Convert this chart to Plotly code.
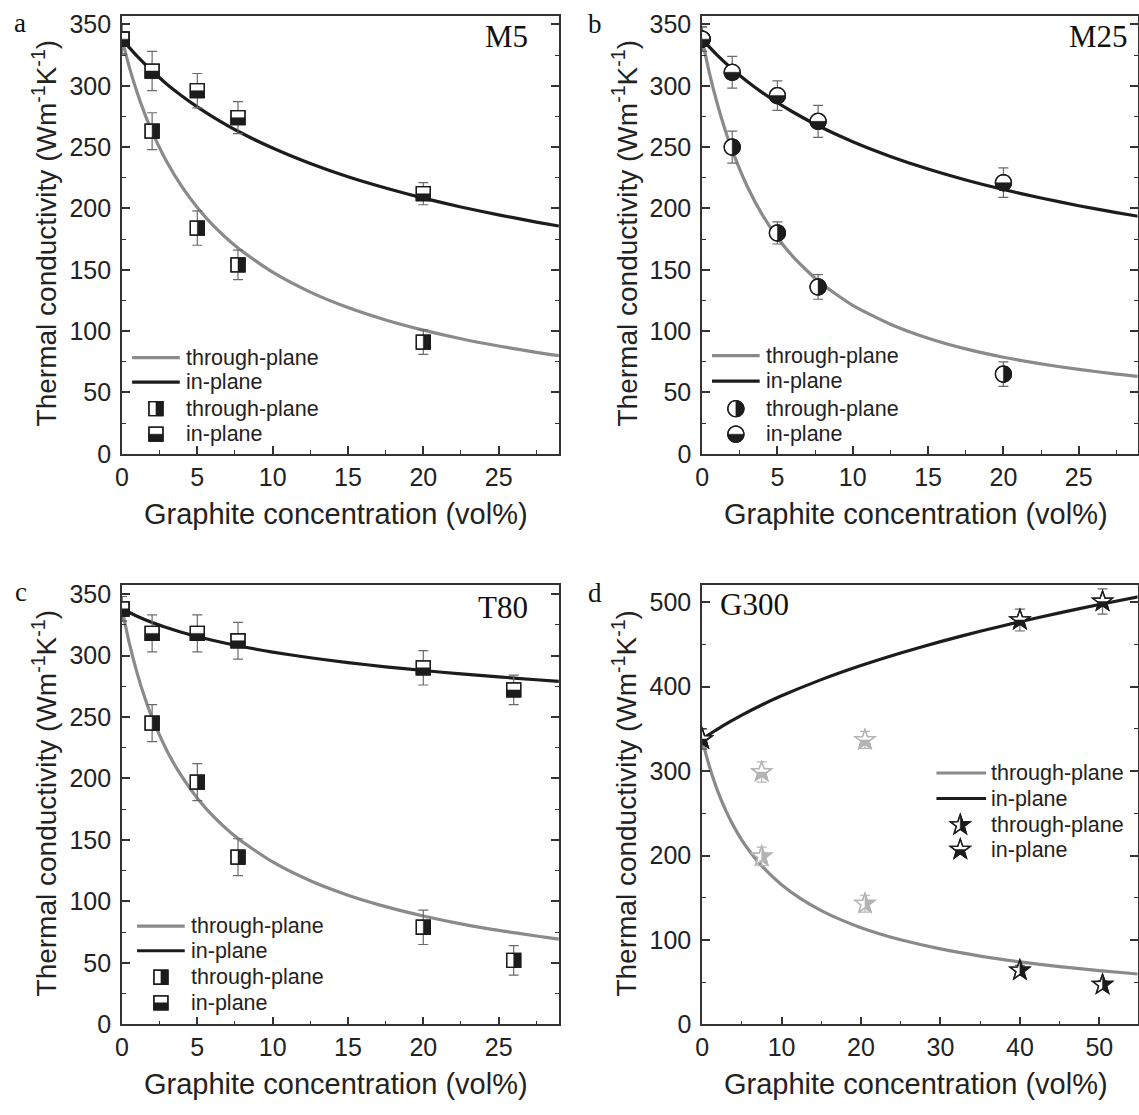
import math
import plotly.graph_objects as go

# ---------------- data ----------------
# Panel a: M5 graphite
m5_x = [0, 2, 5, 7.7, 20]
m5_through = [338, 263, 184, 154, 91]
m5_through_err = [12, 15, 14, 12, 10]
m5_in = [338, 312, 296, 274, 212]
m5_in_err = [12, 16, 14, 13, 9]
m5_fit_through_x = [0, 0.5, 1, 1.5, 2, 3, 4, 5, 6, 7.7, 10, 12.5, 15, 17.5, 20, 22.5, 25, 27.5, 29]
m5_fit_through = [338, 314.6, 294.7, 277.5, 262.4, 237.4, 217.3, 200.7, 186.8, 167.7, 148.0,
                  131.8, 119.2, 109.1, 100.8, 93.8, 87.9, 82.7, 80.0]
m5_fit_in_x = [0, 1, 2, 3, 4, 5, 6, 7.7, 10, 12.5, 15, 17.5, 20, 22.5, 25, 27.5, 29]
m5_fit_in = [338, 324.1, 312.0, 301.1, 291.5, 282.8, 274.9, 262.9, 249.2, 236.6, 225.8,
             216.6, 208.4, 201.2, 194.8, 188.9, 185.7]

# Panel b: M25 graphite
m25_x = [0, 2, 5, 7.7, 20]
m25_through = [338, 250, 180, 136, 65]
m25_through_err = [10, 13, 9, 10, 10]
m25_in = [338, 311, 292, 271, 221]
m25_in_err = [10, 13, 12, 13, 12]
m25_fit_through_x = [0, 0.5, 1, 1.5, 2, 3, 4, 5, 6, 7.7, 10, 12.5, 15, 17.5, 20, 22.5, 25, 27.5, 29]
m25_fit_through = [338, 309.7, 285.7, 265.2, 247.3, 217.9, 194.8, 176.3, 161.2, 140.9, 121.0,
                   105.6, 94.2, 85.5, 78.7, 73.3, 68.8, 65.0, 63.1]
m25_fit_in_x = [0, 1, 2, 3, 4, 5, 6, 7.7, 10, 12.5, 15, 17.5, 20, 22.5, 25, 27.5, 29]
m25_fit_in = [338, 325.0, 313.7, 303.5, 294.4, 286.2, 278.8, 267.4, 254.4, 242.4, 232.1,
              223.2, 215.4, 208.5, 202.2, 196.6, 193.5]

# Panel c: T80 graphite
t80_x = [0, 2, 5, 7.7, 20, 26]
t80_through = [338, 245, 197, 136, 79, 52]
t80_through_err = [10, 15, 15, 15, 14, 12]
t80_in = [338, 318, 318, 312, 290, 272]
t80_in_err = [10, 15, 15, 15, 14, 12]
t80_fit_through_x = [0, 0.5, 1, 1.5, 2, 3, 4, 5, 6, 7.7, 10, 12.5, 15, 17.5, 20, 22.5, 25, 27.5, 29]
t80_fit_through = [338, 309.4, 285.9, 266.2, 249.4, 222.1, 201.0, 184.0, 170.0, 151.1, 132.1,
                   116.8, 105.1, 95.8, 88.2, 81.8, 76.5, 71.9, 69.4]
t80_fit_in_x = [0, 1, 2, 3, 4, 5, 6, 7.7, 10, 12.5, 15, 17.5, 20, 22.5, 25, 27.5, 29]
t80_fit_in = [338, 331.9, 326.8, 322.5, 318.7, 315.4, 312.4, 307.9, 302.8, 298.2, 294.2,
              290.8, 287.8, 285.0, 282.6, 280.3, 279.0]

# Panel d: G300 graphite
g300_x = [0, 7.5, 20.5, 40, 50.4]
g300_through = [338, 199, 143, 64, 47]
g300_through_err = [12, 11, 10, 6, 5]
g300_in = [338, 299, 337, 479, 501]
g300_in_err = [12, 12, 10, 13, 15]
g300_faded = [False, True, True, False, False]
g300_fit_through_x = [0, 0.5, 1, 1.5, 2, 3, 4, 5, 6.25, 7.5, 10, 12.5, 15, 17.5, 20, 22.5,
                      25, 30, 35, 40, 45, 50, 55]
g300_fit_through = [338, 319.5, 303.1, 288.5, 275.4, 252.9, 234.3, 218.4, 201.8, 187.7, 165.4,
                    148.3, 134.8, 123.8, 114.6, 106.9, 100.3, 89.4, 80.9, 74.1, 68.4, 63.7, 59.6]
g300_fit_in_x = [0, 2.5, 5, 7.5, 10, 15, 20, 25, 30, 35, 40, 45, 50, 55]
g300_fit_in = [338, 353.1, 366.4, 378.4, 389.2, 408.4, 425.1, 440.0, 453.4, 465.7, 477.0,
               487.5, 497.4, 506.6]

series_labels = ["through-plane", "in-plane"]
x_title = "Graphite concentration (vol%)"
y_title = "Thermal conductivity (Wm<sup>-1</sup>K<sup>-1</sup>)"

# ---------------- style ----------------
W, H = 1139, 1115
GRAY = "#8a8a8a"
BLACK = "#1c1c1c"
ERR = "#6a6a6a"
FADED = "#b4b4b4"
AXIS = "#333333"
TXT = "#222222"
SANS = "Liberation Sans, Arial, sans-serif"
SERIF = "Liberation Serif, Times New Roman, serif"


def px_x(p):
    return p / W


def px_y(p):
    return 1 - p / H


# ---------------- marker geometry (pixel units, y up) ----------------
def square(s=7):
    return [(-s, -s), (s, -s), (s, s), (-s, s)]


def circle(r=8, n=48):
    return [(r * math.cos(2 * math.pi * k / n), r * math.sin(2 * math.pi * k / n)) for k in range(n)]


def star(R=10.5, ratio=0.40):
    pts = []
    for k in range(10):
        a = math.pi / 2 + k * math.pi / 5
        rr = R if k % 2 == 0 else R * ratio
        pts.append((rr * math.cos(a), rr * math.sin(a)))
    return pts


def clip_half(poly, f):
    out = []
    n = len(poly)
    for i in range(n):
        p, q = poly[i], poly[(i + 1) % n]
        fp, fq = f(p), f(q)
        if fp >= 0:
            out.append(p)
        if (fp >= 0) != (fq >= 0):
            t = fp / (fp - fq)
            out.append((p[0] + t * (q[0] - p[0]), p[1] + t * (q[1] - p[1])))
    return out


def to_path(poly):
    return "M " + " L ".join(f"{x:.2f},{y:.2f}" for x, y in poly) + " Z"


SPLIT = {
    "through": lambda p: p[0],   # right half filled
    "in": lambda p: -p[1],       # lower half filled
}


def half_marker(xref, yref, x, y, geom, split, edge=BLACK, fill=BLACK, lw=1.3):
    outline = geom
    half = clip_half(outline, SPLIT[split])
    base = dict(type="path", xref=xref, yref=yref, xsizemode="pixel", ysizemode="pixel",
                xanchor=x, yanchor=y, layer="above")
    return [
        dict(path=to_path(outline), fillcolor="white", line=dict(color=edge, width=lw), **base),
        dict(path=to_path(half), fillcolor=fill, line=dict(color=fill, width=0.5), **base),
        dict(path=to_path(outline), fillcolor="rgba(0,0,0,0)", line=dict(color=edge, width=lw), **base),
    ]


# ---------------- panels ----------------
panels = [
    dict(key="", letter="a", tag="M5", geom=square(),
         x=m5_x, thr=m5_through, thr_err=m5_through_err, inp=m5_in, inp_err=m5_in_err,
         fx_t=m5_fit_through_x, ft=m5_fit_through, fx_i=m5_fit_in_x, fi=m5_fit_in,
         faded=None, xdom=(115.8, 555.8), ydom=(10, 456), xr=[0, 29], yr=[0, 357],
         xd=5, xm=2.5, yd=50, ym=25),
    dict(key="2", letter="b", tag="M25", geom=circle(),
         x=m25_x, thr=m25_through, thr_err=m25_through_err, inp=m25_in, inp_err=m25_in_err,
         fx_t=m25_fit_through_x, ft=m25_fit_through, fx_i=m25_fit_in_x, fi=m25_fit_in,
         faded=None, xdom=(700, 1138.5), ydom=(10, 456), xr=[0, 28.9], yr=[0, 357],
         xd=5, xm=2.5, yd=50, ym=25),
    dict(key="3", letter="c", tag="T80", geom=square(),
         x=t80_x, thr=t80_through, thr_err=t80_through_err, inp=t80_in, inp_err=t80_in_err,
         fx_t=t80_fit_through_x, ft=t80_fit_through, fx_i=t80_fit_in_x, fi=t80_fit_in,
         faded=None, xdom=(115.8, 555.8), ydom=(590, 1037), xr=[0, 29], yr=[0, 357],
         xd=5, xm=2.5, yd=50, ym=25),
    dict(key="4", letter="d", tag="G300", geom=star(),
         x=g300_x, thr=g300_through, thr_err=g300_through_err, inp=g300_in, inp_err=g300_in_err,
         fx_t=g300_fit_through_x, ft=g300_fit_through, fx_i=g300_fit_in_x, fi=g300_fit_in,
         faded=g300_faded, xdom=(700, 1138.5), ydom=(590, 1037), xr=[0, 54.8], yr=[0, 520],
         xd=10, xm=5, yd=100, ym=50),
]

# legend placement (pixels): line start/end, marker x, text x, row y's
legend_pos = {
    "a": dict(l0=126, l1=174, mx=150, tx=178, rows=[358, 383, 410, 436]),
    "b": dict(l0=710, l1=758, mx=734, tx=762, rows=[356, 382, 410, 436]),
    "c": dict(l0=131, l1=179, mx=155, tx=183, rows=[937, 962, 989, 1015]),
    "d": dict(l0=936, l1=986, mx=960, tx=989, rows=[781, 807, 834, 859]),
}
title_pos = {
    "a": dict(x=527, y=31, anchor="right"),
    "b": dict(x=1131, y=31, anchor="right"),
    "c": dict(x=527, y=612, anchor="right"),
    "d": dict(x=716, y=609, anchor="left"),
}
letter_pos = {"a": (13, 17), "b": (592, 18), "c": (14, 597), "d": (592, 598)}

fig = go.Figure()
shapes = []
annotations = []
layout = {}

for p in panels:
    k = p["key"]
    xref, yref = "x" + k, "y" + k

    # fitted curves
    fig.add_trace(go.Scatter(x=p["fx_t"], y=p["ft"], mode="lines", xaxis=xref, yaxis=yref,
                             line=dict(color=GRAY, width=3.2, shape="spline", smoothing=0.6),
                             hoverinfo="skip"))
    fig.add_trace(go.Scatter(x=p["fx_i"], y=p["fi"], mode="lines", xaxis=xref, yaxis=yref,
                             line=dict(color=BLACK, width=3.2, shape="spline", smoothing=0.6),
                             hoverinfo="skip"))

    # error bars and half-filled markers
    faded = p["faded"] or [False] * len(p["x"])
    for vals, errs, split in ((p["thr"], p["thr_err"], "through"), (p["inp"], p["inp_err"], "in")):
        for fade_flag in (False, True):
            idx = [i for i, f in enumerate(faded) if f == fade_flag]
            if not idx:
                continue
            fig.add_trace(go.Scatter(
                x=[p["x"][i] for i in idx], y=[vals[i] for i in idx], mode="markers",
                xaxis=xref, yaxis=yref, marker=dict(size=2, color="rgba(0,0,0,0)"),
                error_y=dict(type="data", array=[errs[i] for i in idx], visible=True,
                             color=FADED if fade_flag else ERR, thickness=1.2, width=5),
                hoverinfo="skip"))
        for i, (xv, yv) in enumerate(zip(p["x"], vals)):
            col = FADED if faded[i] else BLACK
            shapes += half_marker(xref, yref, xv, yv, p["geom"], split, edge=col, fill=col)

    # axes
    x0, x1 = p["xdom"]
    ytop, ybot = p["ydom"]
    tickfont = dict(family=SANS, size=25, color=TXT)
    layout["xaxis" + k] = dict(
        domain=[px_x(x0), px_x(x1)], range=p["xr"], anchor=yref, showgrid=False, zeroline=False,
        showline=True, linecolor=AXIS, linewidth=1.6, mirror=True,
        ticks="inside", ticklen=8, tickwidth=1.5, tickcolor=AXIS, dtick=p["xd"], tick0=0,
        minor=dict(ticks="inside", ticklen=4, tickwidth=1.3, tickcolor=AXIS, dtick=p["xm"], showgrid=False),
        tickfont=tickfont, ticklabelstandoff=0)
    layout["yaxis" + k] = dict(
        domain=[px_y(ybot), px_y(ytop)], range=p["yr"], anchor=xref, showgrid=False, zeroline=False,
        showline=True, linecolor=AXIS, linewidth=1.6, mirror="ticks",
        ticks="inside", ticklen=8, tickwidth=1.5, tickcolor=AXIS, dtick=p["yd"], tick0=0,
        minor=dict(ticks="inside", ticklen=4, tickwidth=1.3, tickcolor=AXIS, dtick=p["ym"], showgrid=False),
        tickfont=tickfont, ticklabelstandoff=4)

    # axis titles
    cx = (x0 + x1) / 2
    annotations.append(dict(text=x_title, xref="paper", yref="paper", x=px_x(cx - 4),
                            y=px_y(ybot + 61), xanchor="center", yanchor="middle", showarrow=False,
                            font=dict(family=SANS, size=29, color=TXT)))
    annotations.append(dict(text=y_title, xref="paper", yref="paper", x=px_x(x0 - 78),
                            y=px_y((ytop + ybot) / 2 - 2), xanchor="center", yanchor="middle",
                            textangle=-90, showarrow=False,
                            font=dict(family=SANS, size=28, color=TXT)))

    # panel letter and sample tag
    lx, ly = letter_pos[p["letter"]]
    annotations.append(dict(text=p["letter"], xref="paper", yref="paper", x=px_x(lx), y=px_y(ly),
                            xanchor="center", yanchor="middle", showarrow=False,
                            font=dict(family=SERIF, size=27, color="#111")))
    tp = title_pos[p["letter"]]
    annotations.append(dict(text=p["tag"], xref="paper", yref="paper", x=px_x(tp["x"]), y=px_y(tp["y"]),
                            xanchor=tp["anchor"], yanchor="middle", showarrow=False,
                            font=dict(family=SERIF, size=31, color="#111")))

    # legend
    lp = legend_pos[p["letter"]]
    for row, colr in zip(lp["rows"][:2], (GRAY, BLACK)):
        shapes.append(dict(type="line", xref="paper", yref="paper", x0=px_x(lp["l0"]), x1=px_x(lp["l1"]),
                           y0=px_y(row), y1=px_y(row), line=dict(color=colr, width=3.2)))
    for row, split in zip(lp["rows"][2:], ("through", "in")):
        shapes += half_marker("paper", "paper", px_x(lp["mx"]), px_y(row), p["geom"], split)
    for row, lab in zip(lp["rows"], series_labels + series_labels):
        annotations.append(dict(text=lab, xref="paper", yref="paper", x=px_x(lp["tx"]), y=px_y(row),
                                xanchor="left", yanchor="middle", showarrow=False,
                                font=dict(family=SANS, size=21.5, color=TXT)))

fig.update_layout(width=W, height=H, autosize=False, margin=dict(l=0, r=0, t=0, b=0),
                  paper_bgcolor="white", plot_bgcolor="white", showlegend=False,
                  shapes=shapes, annotations=annotations, **layout)

fig.write_html("out.html")
